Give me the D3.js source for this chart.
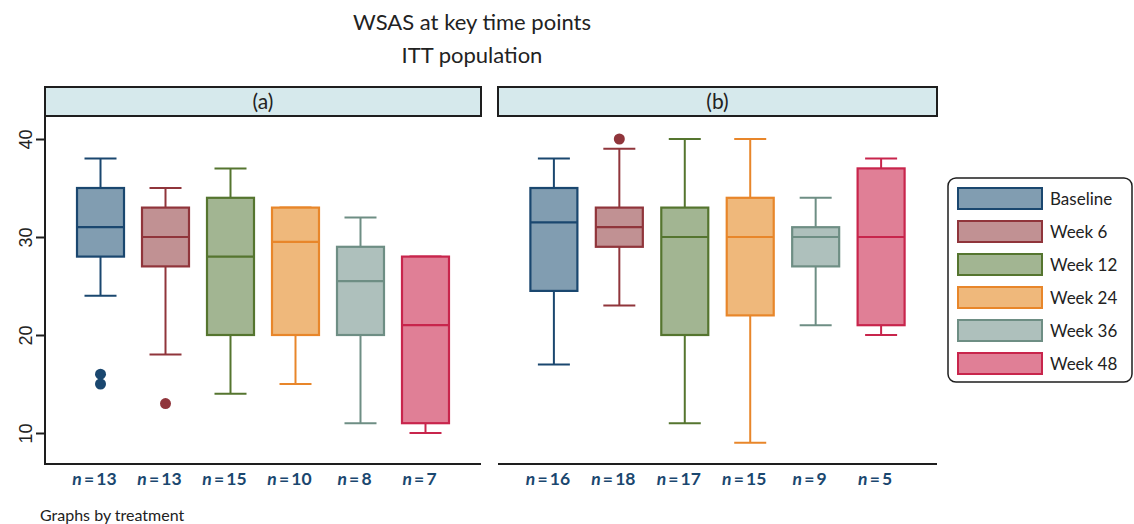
<!DOCTYPE html>
<html>
<head>
<meta charset="utf-8">
<script src="https://cdn.jsdelivr.net/npm/d3@7"></script>
<style>
  body { margin: 0; background: #fff; }
  svg { display: block; }
</style>
</head>
<body>
<svg id="chart" width="1134" height="524"></svg>
<script>
// WSAS box summaries by time point, one set per treatment panel
const timepoints = ["Baseline", "Week 6", "Week 12", "Week 24", "Week 36", "Week 48"];
const panels = ["(a)", "(b)"];

// [lower whisker, Q1, median, Q3, upper whisker]
const statsA = [
  [24, 28, 31, 35, 38],
  [18, 27, 30, 33, 35],
  [14, 20, 28, 34, 37],
  [15, 20, 29.5, 33, 33],
  [11, 20, 25.5, 29, 32],
  [10, 11, 21, 28, 28]
];
const statsB = [
  [17, 24.5, 31.5, 35, 38],
  [23, 29, 31, 33, 39],
  [11, 20, 30, 33, 40],
  [9, 22, 30, 34, 40],
  [21, 27, 30, 31, 34],
  [20, 21, 30, 37, 38]
];
const outliersA = [[16, 15], [13], [], [], [], []];
const outliersB = [[], [40], [], [], [], []];
const countsA = [13, 13, 15, 10, 8, 7];
const countsB = [16, 18, 17, 15, 9, 5];
const yTicks = [10, 20, 30, 40];

const strokeColors = ["#1a476f", "#90353b", "#55752f", "#e8862a", "#6e8e84", "#c8254c"];
const fillColors = ["#819db1", "#c19193", "#a2b592", "#efb87b", "#aec0bc", "#e07f96"];

const svg = d3.select("#chart");

const y = d3.scaleLinear().domain([10, 40]).range([433, 139]);
const plotTop = 117, plotBottom = 464;

const panelDefs = [
  { label: panels[0], x0: 45, x1: 481, stats: statsA, outs: outliersA, counts: countsA, yAxis: true },
  { label: panels[1], x0: 498, x1: 937, stats: statsB, outs: outliersB, counts: countsB, yAxis: false }
];

const boxW = 47, capW = 32;

panelDefs.forEach(p => {
  const x = d3.scalePoint().domain(timepoints).range([p.x0, p.x1]).padding(0.854);

  // strip header
  svg.append("rect")
    .attr("x", p.x0).attr("y", 87)
    .attr("width", p.x1 - p.x0).attr("height", 29)
    .attr("fill", "#d6e9ec").attr("stroke", "#1e1e1e").attr("stroke-width", 2);
  svg.append("text")
    .attr("x", (p.x0 + p.x1) / 2).attr("y", 109)
    .attr("text-anchor", "middle")
    .attr("font-family", "Lato, sans-serif").attr("font-size", 21)
    .attr("fill", "#222").text(p.label);

  // bottom axis line
  svg.append("line")
    .attr("x1", p.x0).attr("x2", p.x1)
    .attr("y1", plotBottom).attr("y2", plotBottom)
    .attr("stroke", "#1e1e1e").attr("stroke-width", 2);

  if (p.yAxis) {
    const axis = d3.axisLeft(y).tickValues(yTicks).tickSize(9).tickPadding(4);
    const g = svg.append("g").attr("transform", `translate(${p.x0},0)`).call(axis);
    g.select(".domain").remove();
    g.selectAll(".tick line").attr("stroke", "#1e1e1e").attr("stroke-width", 2);
    g.selectAll(".tick text")
      .attr("font-family", "'Liberation Sans', Arial, sans-serif")
      .attr("font-size", 18).attr("fill", "#222")
      .attr("x", null).attr("dy", null)
      .attr("text-anchor", "middle")
      .attr("transform", "translate(-19,0) rotate(-90)")
      .attr("y", 6);
    svg.append("line")
      .attr("x1", p.x0).attr("x2", p.x0)
      .attr("y1", plotTop).attr("y2", plotBottom + 1)
      .attr("stroke", "#1e1e1e").attr("stroke-width", 2);
  }

  timepoints.forEach((t, i) => {
    const [lo, q1, med, q3, hi] = p.stats[i];
    const cx = x(t);
    const g = svg.append("g");
    const sc = strokeColors[i];

    // whiskers
    g.append("line").attr("x1", cx).attr("x2", cx).attr("y1", y(q3)).attr("y2", y(hi))
      .attr("stroke", sc).attr("stroke-width", 2);
    g.append("line").attr("x1", cx).attr("x2", cx).attr("y1", y(q1)).attr("y2", y(lo))
      .attr("stroke", sc).attr("stroke-width", 2);
    g.append("line").attr("x1", cx - capW / 2).attr("x2", cx + capW / 2).attr("y1", y(hi)).attr("y2", y(hi))
      .attr("stroke", sc).attr("stroke-width", 2);
    g.append("line").attr("x1", cx - capW / 2).attr("x2", cx + capW / 2).attr("y1", y(lo)).attr("y2", y(lo))
      .attr("stroke", sc).attr("stroke-width", 2);

    // box
    g.append("rect")
      .attr("x", cx - boxW / 2).attr("y", y(q3))
      .attr("width", boxW).attr("height", y(q1) - y(q3))
      .attr("fill", fillColors[i]).attr("stroke", sc).attr("stroke-width", 2.2);
    g.append("line").attr("x1", cx - boxW / 2).attr("x2", cx + boxW / 2).attr("y1", y(med)).attr("y2", y(med))
      .attr("stroke", sc).attr("stroke-width", 2.2);

    // outliers
    p.outs[i].forEach(v => {
      g.append("circle").attr("cx", cx).attr("cy", y(v)).attr("r", 5.5).attr("fill", sc);
    });

    // sample size label, set slightly left of the box centre
    const lab = svg.append("text")
      .attr("x", cx - 6).attr("y", 485)
      .attr("text-anchor", "middle")
      .attr("font-family", "Lato, sans-serif").attr("font-weight", "bold")
      .attr("font-size", 17.5).attr("fill", "#1a476f");
    lab.append("tspan").attr("font-style", "italic").text("n");
    lab.append("tspan").text("\u2009=\u2009" + p.counts[i]);
  });
});

// titles
svg.append("text").attr("x", 472).attr("y", 30).attr("text-anchor", "middle")
  .attr("font-family", "Lato, sans-serif").attr("font-size", 22).attr("fill", "#222")
  .text("WSAS at key time points");
svg.append("text").attr("x", 472).attr("y", 63).attr("text-anchor", "middle")
  .attr("font-family", "Lato, sans-serif").attr("font-size", 22).attr("fill", "#222")
  .text("ITT population");

// note
svg.append("text").attr("x", 40).attr("y", 521)
  .attr("font-family", "Lato, sans-serif").attr("font-size", 16).attr("fill", "#222")
  .text("Graphs by treatment");

// legend
const legend = svg.append("g");
legend.append("rect")
  .attr("x", 948).attr("y", 178).attr("width", 184).attr("height", 204)
  .attr("rx", 8).attr("fill", "#fff").attr("stroke", "#1e1e1e").attr("stroke-width", 1.5);
timepoints.forEach((t, i) => {
  const ry = 188 + i * 33;
  legend.append("rect")
    .attr("x", 958).attr("y", ry).attr("width", 84).attr("height", 21)
    .attr("fill", fillColors[i]).attr("stroke", strokeColors[i]).attr("stroke-width", 2);
  legend.append("text")
    .attr("x", 1050).attr("y", ry + 17)
    .attr("font-family", "Lato, sans-serif").attr("font-size", 17).attr("fill", "#222")
    .text(t);
});
</script>
</body>
</html>
